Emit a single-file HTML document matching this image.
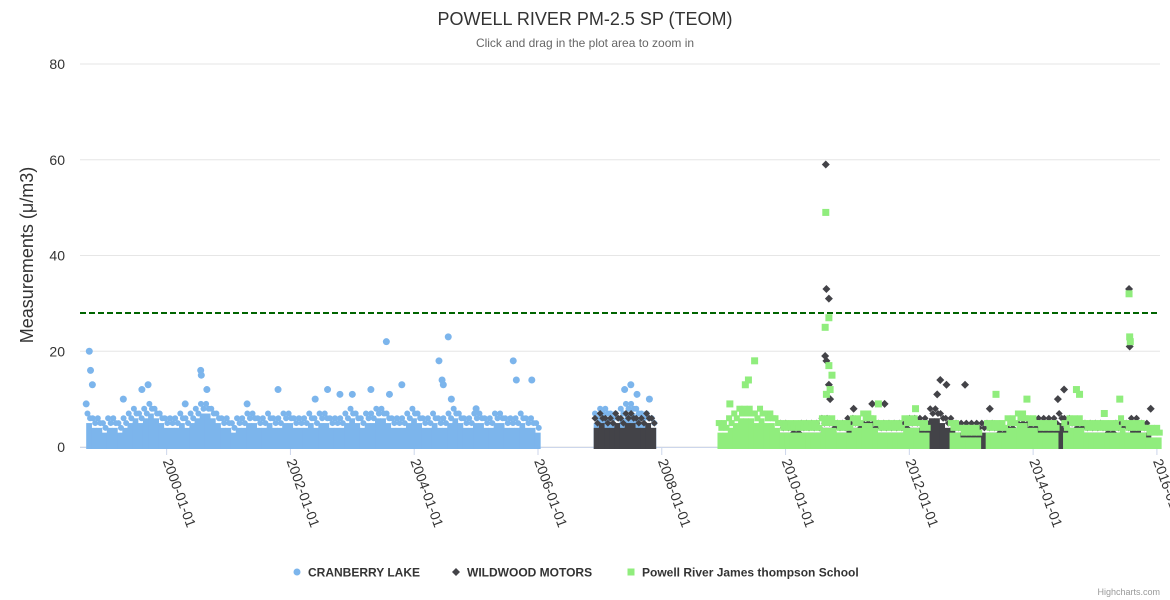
<!DOCTYPE html>
<html><head><meta charset="utf-8"><style>
body{margin:0;background:#fff;font-family:"Liberation Sans",sans-serif}
svg{display:block}
</style></head><body>
<svg id="chart" width="1170" height="600" xmlns="http://www.w3.org/2000/svg"></svg>
<script>
// ---- data ----
const yTicks=[0,20,40,60,80];
const xTickYears=[2000,2002,2004,2006,2008,2010,2012,2014,2016];
const xTickLabels=["2000-01-01","2002-01-01","2004-01-01","2006-01-01","2008-01-01","2010-01-01","2012-01-01","2014-01-01","2016-01-01"];
const threshold=28;
const cranStart=1998.7;
const cranBand=[7,6,6,5,6,6,5,6,7,8,7,8,9,8,7,6,6,6,7,6,7,8,9,9,8,7,6,6,5,6,6,7,7,6,6,7,6,6,7,7,6,6,6,7,6,7,7,6,6,6,7,8,7,6,7,7,8,8,7,6,6,6,7,8,7,6,6,7,6,6,7,8,7,6,6,7,7,6,6,7,7,6,6,6,7,6,6,5];
const cranStart2=2006.9;
const cranBand2=[7,8,8,7,7,8,9,9,8,7,7,6];
const cranSpikeX=[1998.75,1998.77,1998.8,1998.7,1999.3,1999.6,1999.7,2000.3,2000.55,2000.56,2000.65,2001.3,2001.8,2002.4,2002.6,2002.8,2003.0,2003.3,2003.55,2003.6,2003.8,2004.4,2004.45,2004.47,2004.55,2004.6,2005.0,2005.6,2005.65,2005.9,2007.4,2007.5,2007.6,2007.8];
const cranSpikeY=[20,16,13,9,10,12,13,9,16,15,12,9,12,10,12,11,11,12,22,11,13,18,14,13,23,10,8,18,14,14,12,13,11,10];
const woodStart=2006.9;
const woodBand=[6,7,6,6,7,6,7,7,6,6,7,6];
const woodStart2=2009.9;
const woodBand2=[5,5,4,4,5,5,5,5,6,6,5,5,5,6,6,5,5,5,5,5,5,5,5,5,5,6,6,6,6,8,8,7,6,6,5,5,5,5,5,5,5,5,4,4,4,4,5,5,5,5,6,6,6,6,7,6,6,5,5,5,5,5,5,4,4,5,5,5,6,6,5,5];
const woodSpikeX=[2010.65,2010.66,2010.7,2010.64,2010.66,2010.7,2010.72,2011.1,2011.4,2011.6,2012.5,2012.6,2012.9,2013.3,2014.4,2014.5,2015.55,2015.56,2015.9,2012.45];
const woodSpikeY=[59,33,31,19,18,13,10,8,9,9,14,13,13,8,10,12,33,21,8,11];
const schoolStart=2008.9;
const schoolBand=[5,5,6,7,8,8,8,7,8,7,7,6,5,5,5,5,5,5,5,5,6,6,6,5,5,5,6,6,7,7,6,5,5,5,5,5,6,6,6,5,5,null,null,null,null,5,5,4,4,4,4,null,5,5,5,5,6,6,7,7,6,6,5,5,5,5,null,5,6,6,6,5,5,5,5,5,5,5,6,5,5,5,5,4,4,4];
const schoolSpikeX=[2009.5,2009.4,2009.35,2010.65,2010.7,2010.64,2010.7,2010.75,2010.72,2010.66,2009.1,2011.5,2012.1,2013.4,2013.9,2014.7,2014.75,2015.55,2015.56,2015.57,2015.4,2015.15];
const schoolSpikeY=[18,14,13,49,27,25,17,15,12,11,9,9,8,11,10,12,11,32,23,22,10,7];

// ---- layout ----
const NS="http://www.w3.org/2000/svg";
const svg=document.getElementById('chart');
const L=80,R=1160,T=64,B=447;
const X0=1998.6,X1=2016.05;
function xs(v){return L+(v-X0)/(X1-X0)*(R-L);}
function ys(v){return B-v/80*(B-T);}
function mk(tag,attrs,parent){const e=document.createElementNS(NS,tag);for(const k in attrs)e.setAttribute(k,attrs[k]);(parent||svg).appendChild(e);return e;}

const title=mk('text',{x:585,y:25,'text-anchor':'middle','font-size':18,fill:'#333'});


title.textContent='POWELL RIVER PM-2.5 SP (TEOM)';
const sub=mk('text',{x:585,y:47,'text-anchor':'middle','font-size':12,fill:'#666'});


sub.textContent='Click and drag in the plot area to zoom in';

yTicks.forEach(t=>{
  const g=mk('line',{x1:L,x2:R,y1:ys(t),y2:ys(t),stroke:'#e6e6e6'});
  
  
  const lb=mk('text',{x:65,y:ys(t)+5,'text-anchor':'end','font-size':14,fill:'#333'});
  
  
  lb.textContent=t;
});
const yt=mk('text',{x:33,y:255,'text-anchor':'middle','font-size':18,fill:'#333',transform:'rotate(-90 33 255)'});


yt.textContent='Measurements (\u03bc/m3)';

xTickYears.forEach((yr,i)=>{
  const x=xs(yr);
  const tk=mk('line',{x1:x,x2:x,y1:B,y2:B+8,stroke:'#ccd6eb'});
  
  
  const lb=mk('text',{x:x-4,y:B+14,'font-size':14,fill:'#333',transform:`rotate(70 ${x-4} ${B+14})`});
  
  
  lb.textContent=xTickLabels[i];
});
const ax=mk('line',{x1:L,x2:R,y1:B+0.5,y2:B+0.5,stroke:'#ccd6eb'});



function band(start,vals,color,name,shape){
  const step=1/12;
  vals.forEach((v,i)=>{
    if(v===null)return;
    const x0=xs(start+i*step),x1=xs(start+(i+1)*step);
    const top=Math.max(v-2,1.5);
    const r=mk('rect',{x:x0,y:ys(top),width:x1-x0+0.6,height:B-ys(top)+2,fill:color});
    
    
    [[0.25,v],[0.75,v-1]].forEach(([f,val])=>{
      const cx=x0+(x1-x0)*f,cy=ys(val);let e;
      if(shape==='circle')e=mk('circle',{cx:cx,cy:cy,r:3,fill:color});
      else if(shape==='diamond')e=mk('path',{d:`M${cx} ${cy-3.5}L${cx+3.5} ${cy}L${cx} ${cy+3.5}L${cx-3.5} ${cy}Z`,fill:color});
      else e=mk('rect',{x:cx-3,y:cy-3,width:6,height:6,fill:color});
      
      
    });
  });
}
function spikes(xsArr,ysArr,shape,color,name){
  xsArr.forEach((xv,i)=>{
    const x=xs(xv),y=ys(ysArr[i]);let e;
    if(shape==='circle')e=mk('circle',{cx:x,cy:y,r:3.5,fill:color});
    else if(shape==='diamond')e=mk('path',{d:`M${x} ${y-4}L${x+4} ${y}L${x} ${y+4}L${x-4} ${y}Z`,fill:color});
    else e=mk('rect',{x:x-3.5,y:y-3.5,width:7,height:7,fill:color});
    
    
  });
}
const BLUE='#7cb5ec',DARK='#434348',GREEN='#90ed7d';
band(cranStart,cranBand,BLUE,'cranberry','circle');
band(cranStart2,cranBand2,BLUE,'cranberry','circle');
spikes(cranSpikeX,cranSpikeY,'circle',BLUE,'cranberry');
band(woodStart,woodBand,DARK,'wildwood','diamond');
band(woodStart2,woodBand2,DARK,'wildwood','diamond');
spikes(woodSpikeX,woodSpikeY,'diamond',DARK,'wildwood');
band(schoolStart,schoolBand,GREEN,'school','square');
spikes(schoolSpikeX,schoolSpikeY,'square',GREEN,'school');

const th=mk('line',{x1:L,x2:R,y1:ys(threshold),y2:ys(threshold),stroke:'#006400','stroke-width':2,'stroke-dasharray':'6,3'});



const lg=[[297,'circle',BLUE,'CRANBERRY LAKE','legend-cranberry'],[456,'diamond',DARK,'WILDWOOD MOTORS','legend-wildwood'],[631,'square',GREEN,'Powell River James thompson School','legend-school']];
lg.forEach(([x,sh,c,t,n])=>{
  const g=mk('g',{});
  
  
  const y=572;
  if(sh==='circle')mk('circle',{cx:x,cy:y,r:3.5,fill:c},g);
  else if(sh==='diamond')mk('path',{d:`M${x} ${y-4}L${x+4} ${y}L${x} ${y+4}L${x-4} ${y}Z`,fill:c},g);
  else mk('rect',{x:x-3.5,y:y-3.5,width:7,height:7,fill:c},g);
  const tx=mk('text',{x:x+11,y:y+4.5,'font-size':12,'font-weight':'bold',fill:'#333'},g);
  tx.textContent=t;
});
const cr=mk('text',{x:1160,y:595,'text-anchor':'end','font-size':9,fill:'#999'});


cr.textContent='Highcharts.com';
</script>
</body></html>
